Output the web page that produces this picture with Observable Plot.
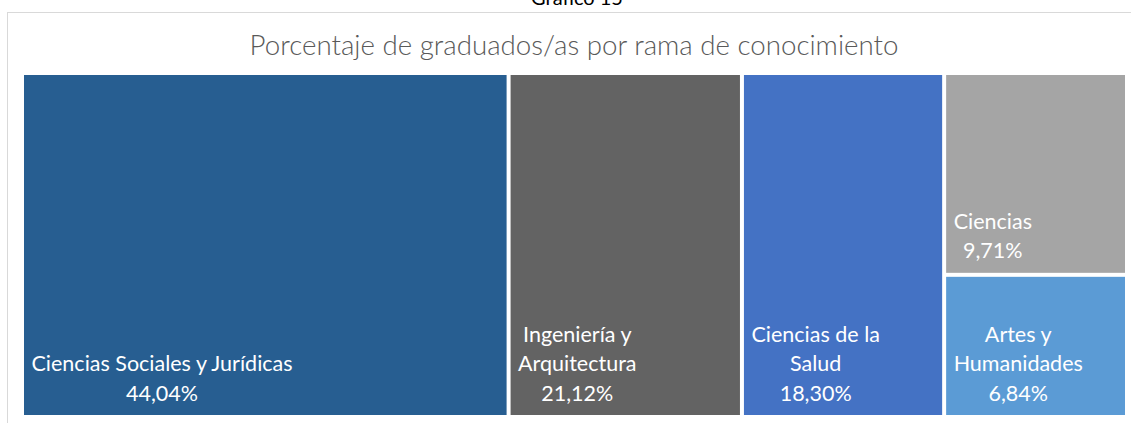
<!DOCTYPE html>
<html>
<head>
<meta charset="utf-8">
<script src="https://cdn.jsdelivr.net/npm/d3@7"></script>
<script src="https://cdn.jsdelivr.net/npm/@observablehq/plot@0.6"></script>
<style>
  html, body { margin: 0; padding: 0; background: #fff; overflow: hidden; }
  body { width: 1131px; height: 423px; position: relative; font-family: Lato, "Open Sans", sans-serif; }
  #caption { position: absolute; left: 0; width: 1154px; top: -15px; text-align: center; font-size: 20px; color: #000; }
  #frame { position: absolute; left: 7px; top: 12px; width: 1140px; height: 440px; border: 1px solid #d9d9d9; }
  #title { position: absolute; left: 0; width: 1148px; top: 28px; text-align: center; font-size: 27.7px; font-weight: 300; color: #595959; }
  #chart { position: absolute; left: 0; top: 0; }
</style>
</head>
<body>
<div id="caption">Gráfico 15</div>
<div id="frame"></div>
<div id="title">Porcentaje de graduados/as por rama de conocimiento</div>
<div id="chart"></div>
<script>
const categories = ["Ciencias Sociales y Jurídicas", "Ingeniería y Arquitectura", "Ciencias de la Salud", "Ciencias", "Artes y Humanidades"];
const labelLines = ["Ciencias Sociales y Jurídicas", "Ingeniería y\nArquitectura", "Ciencias de la\nSalud", "Ciencias", "Artes y\nHumanidades"];
const values = [44.04, 21.12, 18.30, 9.71, 6.84];
const columns = [0, 1, 2, 3, 3];
const colors = ["#275E91", "#636363", "#4472C4", "#A5A5A5", "#5B9BD5"];

// build slice-dice layout from data
const nCols = d3.max(columns) + 1;
const colTotals = d3.range(nCols).map(c => d3.sum(values.filter((v, i) => columns[i] === c)));
const colStart = colTotals.map((t, c) => d3.sum(colTotals.slice(0, c)));
const total = d3.sum(values);
const seen = new Array(nCols).fill(0);
const data = categories.map((name, i) => {
  const c = columns[i];
  const y1 = seen[c] / colTotals[c];
  seen[c] += values[i];
  const y2 = seen[c] / colTotals[c];
  return {
    name, value: values[i], color: colors[i],
    x1: colStart[c], x2: colStart[c] + colTotals[c], y1, y2,
    label: labelLines[i] + "\n" + values[i].toFixed(2).replace(".", ",") + "%"
  };
});

const plot = Plot.plot({
  width: 1131,
  height: 423,
  marginLeft: 22,
  marginRight: 4,
  marginTop: 73,
  marginBottom: 6,
  x: {domain: [0, total], axis: null},
  y: {domain: [0, 1], reverse: true, axis: null},
  color: {type: "identity"},
  style: {background: "transparent", fontFamily: "Lato, 'Open Sans', sans-serif"},
  marks: [
    Plot.rect(data, {x1: "x1", x2: "x2", y1: "y1", y2: "y2", fill: "color", inset: 2}),
    Plot.text(data, {
      x: "x1", y: "y2", text: "label", fill: "white", fontSize: 21.5,
      lineHeight: 1.35, textAnchor: "middle", lineAnchor: "bottom", dy: -17,
      className: "tmlabel"
    })
  ]
});
document.getElementById("chart").appendChild(plot);

// shift each label block so its left edge sits just inside its rectangle
const pad = 9;
plot.querySelectorAll(".tmlabel text").forEach(t => {
  const w = t.getBBox().width;
  const tr = t.getAttribute("transform") || "";
  t.setAttribute("transform", tr + ` translate(${w / 2 + pad},0)`);
});
</script>
</body>
</html>
